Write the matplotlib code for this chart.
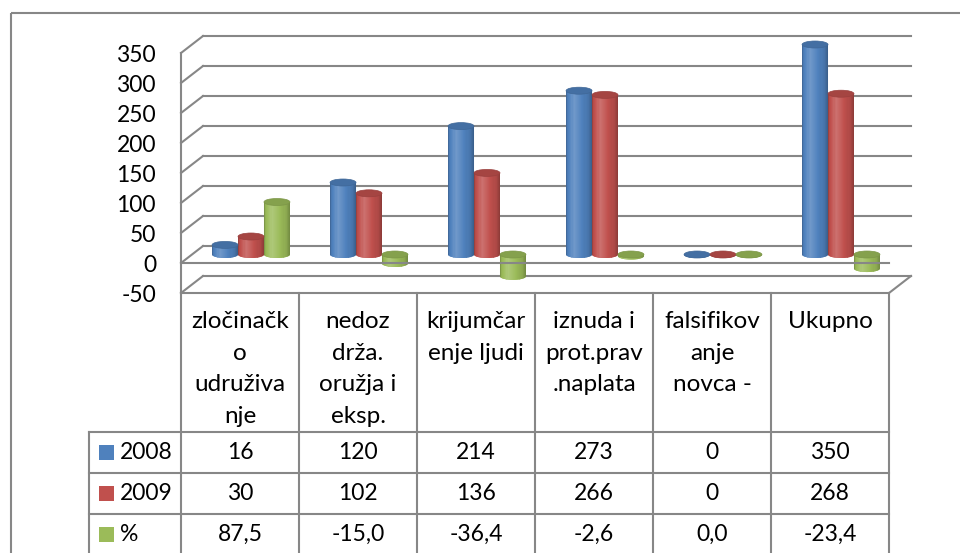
import matplotlib
matplotlib.use("Agg")
import matplotlib.pyplot as plt
import numpy as np
from matplotlib.patches import PathPatch, Ellipse, Rectangle
from matplotlib.path import Path
from matplotlib.transforms import ScaledTranslation, IdentityTransform
from matplotlib.lines import Line2D

# data
categories = ["zločinačk\no\nudruživa\nnje", "nedoz\ndrža.\noružja i\neksp.",
              "krijumčar\nenje ljudi", "iznuda i\nprot.prav\n.naplata",
              "falsifikov\nanje\nnovca -", "Ukupno"]
series_names = ["2008", "2009", "%"]
v2008 = [16, 120, 214, 273, 0, 350]
v2009 = [30, 102, 136, 266, 0, 268]
pct = [87.5, -15.0, -36.4, -2.6, 0.0, -23.4]
pct_labels = ["87,5", "-15,0", "-36,4", "-2,6", "0,0", "-23,4"]
yticks = [-50, 0, 50, 100, 150, 200, 250, 300, 350]
colors = ["#4F81BD", "#C0504D", "#9BBB59"]

plt.rcParams['font.family'] = ['Lato', 'DejaVu Sans']
FS = 16.5
GRID = "#878787"

W, H, DPI = 960, 553, 100
fig = plt.figure(figsize=(W / DPI, H / DPI), dpi=DPI)

# plot area (front plane) in pixels
AX_L, AX_R, AX_T, AX_B = 181, 889, 53, 293
ax = fig.add_axes([AX_L / W, (H - AX_B) / H, (AX_R - AX_L) / W, (AX_B - AX_T) / H])
ax.set_xlim(0, len(categories))
ax.set_ylim(-50, 350)
ax.set_xticks([])
ax.set_yticks(yticks)
ax.set_yticklabels([str(t) for t in yticks], fontsize=FS)
ax.tick_params(axis='y', length=0, pad=18)
for s in ["top", "right", "bottom"]:
    ax.spines[s].set_visible(False)
ax.spines["left"].set_color(GRID)
ax.spines["left"].set_linewidth(1.5)
ax.patch.set_alpha(0)

# depth offsets (pixels)
DX, DY = 22, 17
back = ax.transData + ScaledTranslation(DX / DPI, DY / DPI, fig.dpi_scale_trans)
mid = ax.transData + ScaledTranslation(DX / 2 / DPI, DY / 2 / DPI, fig.dpi_scale_trans)

n = len(categories)
# back wall gridlines
for t in yticks:
    ax.plot([0, n], [t, t], color=GRID, lw=1.5, transform=back, zorder=1, clip_on=False)


def diag(x, y):
    p = ax.transData.transform((x, y))
    ln = Line2D([p[0], p[0] + DX], [p[1], p[1] + DY], color=GRID, lw=1.5,
                transform=IdentityTransform(), zorder=1)
    fig.add_artist(ln)


fig.canvas.draw()
for t in yticks:
    diag(0, t)
diag(n, -50)

# front zero line and floor front edge
ax.plot([0, n], [0, 0], color=GRID, lw=1.5, zorder=6, clip_on=False)
ax.plot([0, n], [-50, -50], color=GRID, lw=1.5, zorder=6, clip_on=False)

px_per_unit = (AX_B - AX_T) / 400.0
EH = 7 / px_per_unit
BW = 0.22


def shade(c, f):
    c = np.array(matplotlib.colors.to_rgb(c))
    if f <= 1:
        return c * f
    return c + (1 - c) * (f - 1) * 1.6


def cylinder(xc, v, color):
    lo, hi = min(0, v), max(0, v)
    th = np.linspace(np.pi, 2 * np.pi, 30)
    xs = np.concatenate([[xc - BW / 2], xc + BW / 2 * np.cos(th), [xc + BW / 2, xc - BW / 2]])
    ys = np.concatenate([[hi], lo + EH / 2 * np.sin(th), [hi, hi]])
    body = PathPatch(Path(np.column_stack([xs, ys]), closed=True), facecolor=color,
                     edgecolor='none', transform=mid, zorder=3, clip_on=False)
    ax.add_patch(body)
    ns = 24
    for i in range(ns):
        t = (i + 0.5) / ns
        f = np.interp(t, [0, 0.07, 0.3, 0.55, 0.85, 1], [0.74, 0.97, 1.12, 1.03, 0.9, 0.72])
        r = Rectangle((xc - BW / 2 + i * BW / ns, lo - EH), BW / ns * 1.05, hi - lo + 2 * EH,
                      facecolor=shade(color, f), edgecolor='none', transform=mid, zorder=3)
        r.set_clip_path(body)
        ax.add_patch(r)
    ax.add_patch(Ellipse((xc, hi), BW, EH, facecolor=shade(color, 0.86), edgecolor=shade(color, 0.8),
                         lw=0.5, transform=mid, zorder=4, clip_on=False))


for j, vals in enumerate([v2008, v2009, pct]):
    for k, v in enumerate(vals):
        cylinder(k + 0.5 + (j - 1) * BW, v, colors[j])

# overlay in pixel coordinates for table and frame
ov = fig.add_axes([0, 0, 1, 1])
ov.set_xlim(0, W)
ov.set_ylim(H, 0)
ov.axis('off')
ov.patch.set_alpha(0)

ov.add_patch(Rectangle((11, 13), W, H, fill=False, edgecolor=GRID, lw=1.5))

cw = (AX_R - AX_L) / n
edges = [AX_L + k * cw for k in range(n + 1)]
ROW_H = [432, 473, 514]
LEG_L = 89
for x in edges:
    ov.plot([x, x], [AX_B, H], color=GRID, lw=1.5)
ov.plot([LEG_L, LEG_L], [ROW_H[0], H], color=GRID, lw=1.5)
for y in ROW_H:
    ov.plot([LEG_L, AX_R], [y, y], color=GRID, lw=1.5)

for k, lab in enumerate(categories):
    ov.text(edges[k] + cw / 2, 311, lab, ha='center', va='top', fontsize=17.5, linespacing=1.63)

row_c = [452.5, 493.5, 534.5]
rows = [[str(v) for v in v2008], [str(v) for v in v2009], pct_labels]
for r, vals in enumerate(rows):
    for k, s in enumerate(vals):
        ov.text(edges[k] + cw / 2, row_c[r], s, ha='center', va='center', fontsize=FS)
    ov.add_patch(Rectangle((99, row_c[r] - 7.5), 15, 15, facecolor=colors[r], edgecolor='none'))
    ov.text(120, row_c[r], series_names[r], ha='left', va='center', fontsize=FS)

fig.savefig("out.png", dpi=DPI)
